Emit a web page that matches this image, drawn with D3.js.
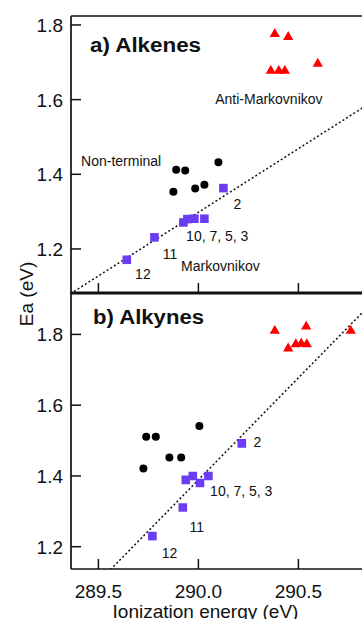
<!DOCTYPE html>
<html>
<head>
<meta charset="utf-8">
<script src="https://cdn.jsdelivr.net/npm/d3@7"></script>
<style>
  body { margin: 0; background: #fff; }
  svg { display: block; font-family: "Liberation Sans", Arial, sans-serif; }
</style>
</head>
<body>
<svg id="chart" width="362" height="619"></svg>
<script>
// a) Alkenes
const alkeneMarkov = [[289.642, 1.171], [289.78, 1.231], [289.925, 1.271], [289.945, 1.28],
                      [289.98, 1.281], [290.03, 1.281], [290.125, 1.363]];
const alkeneNonTerminal = [[289.875, 1.353], [289.889, 1.412], [289.934, 1.41],
                           [289.984, 1.362], [290.03, 1.372], [290.10, 1.432]];
const alkeneAnti = [[290.382, 1.776], [290.449, 1.768], [290.362, 1.677], [290.402, 1.677],
                    [290.432, 1.677], [290.597, 1.696]];
const alkeneFit = [[289.36, 1.08], [290.9, 1.605]];

// b) Alkynes
const alkyneMarkov = [[289.77, 1.23], [289.922, 1.311], [289.937, 1.389], [289.972, 1.40],
                      [290.008, 1.38], [290.05, 1.40], [290.217, 1.492]];
const alkyneNonTerminal = [[289.725, 1.421], [289.739, 1.511], [289.787, 1.511],
                           [289.855, 1.452], [289.914, 1.452], [290.005, 1.541]];
const alkyneAnti = [[290.382, 1.81], [290.539, 1.822], [290.449, 1.76], [290.487, 1.772],
                    [290.514, 1.774], [290.542, 1.772], [290.762, 1.81]];
const alkyneFit = [[289.56, 1.135], [290.9, 1.908]];

const xTicks = [289.5, 290.0, 290.5];
const yTicks = [1.2, 1.4, 1.6, 1.8];

// text annotations, anchored in data units
const alkeneNotes = [
    ["Anti-Markovnikov", 290.084, 1.588], ["Non-terminal", 289.4135, 1.423],
    ["Markovnikov", 289.9135, 1.142], ["2", 290.175, 1.307],
    ["10, 7, 5, 3", 289.9385, 1.2225], ["11", 289.822, 1.173], ["12", 289.6835, 1.119]
];
const alkyneNotes = [
    ["2", 290.275, 1.483], ["10, 7, 5, 3", 290.0585, 1.343],
    ["11", 289.955, 1.2416], ["12", 289.817, 1.1676]
];

const svg = d3.select("#chart");
const left = 71, right = 378.4;

const x = d3.scaleLinear().domain([289.363, 290.9]).range([left, right]);

function panel(opts) {
    const y = d3.scaleLinear().domain(opts.ydom).range([opts.y1, opts.y0]);
    const g = svg.append("g");
    const clipId = "clip" + opts.id;
    g.append("clipPath").attr("id", clipId)
        .append("rect")
        .attr("x", left).attr("y", opts.y0)
        .attr("width", right - left).attr("height", opts.y1 - opts.y0);

    const plot = g.append("g").attr("clip-path", `url(#${clipId})`);

    plot.append("path")
        .datum(opts.fit)
        .attr("fill", "none")
        .attr("stroke", "#111")
        .attr("stroke-width", 1.5)
        .attr("stroke-dasharray", "2,2.3")
        .attr("d", d3.line().x(d => x(d[0])).y(d => y(d[1])));

    plot.selectAll("circle.nt")
        .data(opts.nonTerminal)
        .enter().append("circle")
        .attr("class", "nt")
        .attr("cx", d => x(d[0]))
        .attr("cy", d => y(d[1]))
        .attr("r", 4)
        .attr("fill", "#000");

    plot.selectAll("path.mk")
        .data(opts.markov)
        .enter().append("path")
        .attr("class", "mk")
        .attr("transform", d => `translate(${x(d[0])},${y(d[1])})`)
        .attr("d", d3.symbol(d3.symbolSquare, 74)())
        .attr("fill", "#6a3df2");

    plot.selectAll("path.am")
        .data(opts.anti)
        .enter().append("path")
        .attr("class", "am")
        .attr("transform", d => `translate(${x(d[0])},${y(d[1])})`)
        .attr("d", d3.symbol(d3.symbolTriangle, 46)())
        .attr("fill", "#ff0000");

    g.selectAll("text.note")
        .data(opts.notes)
        .enter().append("text")
        .attr("class", "note")
        .attr("x", d => x(d[1]))
        .attr("y", d => y(d[2]))
        .attr("font-size", 14)
        .attr("fill", "#111")
        .text(d => d[0]);

    g.append("text")
        .attr("x", opts.titleX)
        .attr("y", opts.y0 + opts.titleDy)
        .attr("font-size", 20)
        .attr("font-weight", "bold")
        .attr("fill", "#111")
        .attr("textLength", 111)
        .attr("lengthAdjust", "spacingAndGlyphs")
        .text(opts.title);

    // y ticks (inward) and labels
    const yAxis = g.append("g");
    yAxis.selectAll("line")
        .data(yTicks)
        .enter().append("line")
        .attr("x1", left).attr("x2", left + 10)
        .attr("y1", d => y(d)).attr("y2", d => y(d))
        .attr("stroke", "#111").attr("stroke-width", 1.5);
    yAxis.selectAll("text")
        .data(yTicks)
        .enter().append("text")
        .attr("x", left - 8)
        .attr("y", d => y(d) + 7)
        .attr("text-anchor", "end")
        .attr("font-size", 19)
        .attr("fill", "#111")
        .text(d => d3.format(".1f")(d));

    // x ticks (inward)
    g.selectAll("line.xt")
        .data(xTicks)
        .enter().append("line")
        .attr("class", "xt")
        .attr("x1", d => x(d)).attr("x2", d => x(d))
        .attr("y1", opts.y1).attr("y2", opts.y1 - 10)
        .attr("stroke", "#111").attr("stroke-width", 1.5);

    return g;
}

panel({
    id: "a", y0: 16, y1: 293, ydom: [1.082, 1.824],
    markov: alkeneMarkov, nonTerminal: alkeneNonTerminal, anti: alkeneAnti,
    fit: alkeneFit, notes: alkeneNotes, title: "a) Alkenes", titleX: 90, titleDy: 35.7
});
panel({
    id: "b", y0: 293, y1: 569, ydom: [1.137, 1.917],
    markov: alkyneMarkov, nonTerminal: alkyneNonTerminal, anti: alkyneAnti,
    fit: alkyneFit, notes: alkyneNotes, title: "b) Alkynes", titleX: 93, titleDy: 31.3
});

// frame
svg.append("line").attr("x1", left).attr("x2", left).attr("y1", 16).attr("y2", 569)
    .attr("stroke", "#111").attr("stroke-width", 1.7);
svg.append("line").attr("x1", left).attr("x2", 362).attr("y1", 16).attr("y2", 16)
    .attr("stroke", "#111").attr("stroke-width", 1.7);
svg.append("line").attr("x1", left).attr("x2", 362).attr("y1", 293).attr("y2", 293)
    .attr("stroke", "#111").attr("stroke-width", 3);
svg.append("line").attr("x1", left).attr("x2", 362).attr("y1", 569).attr("y2", 569)
    .attr("stroke", "#111").attr("stroke-width", 1.7);

// x tick labels (bottom panel only)
svg.selectAll("text.xl")
    .data(xTicks)
    .enter().append("text")
    .attr("class", "xl")
    .attr("x", d => x(d))
    .attr("y", 598)
    .attr("text-anchor", "middle")
    .attr("font-size", 19)
    .attr("fill", "#111")
    .text(d => d3.format(".1f")(d));

svg.append("text")
    .attr("x", 205.5)
    .attr("y", 618)
    .attr("text-anchor", "middle")
    .attr("font-size", 19)
    .attr("fill", "#111")
    .text("Ionization energy (eV)");

svg.append("text")
    .attr("transform", "translate(33,294) rotate(-90)")
    .attr("text-anchor", "middle")
    .attr("font-size", 19)
    .attr("fill", "#111")
    .text("Ea (eV)");
</script>
</body>
</html>
